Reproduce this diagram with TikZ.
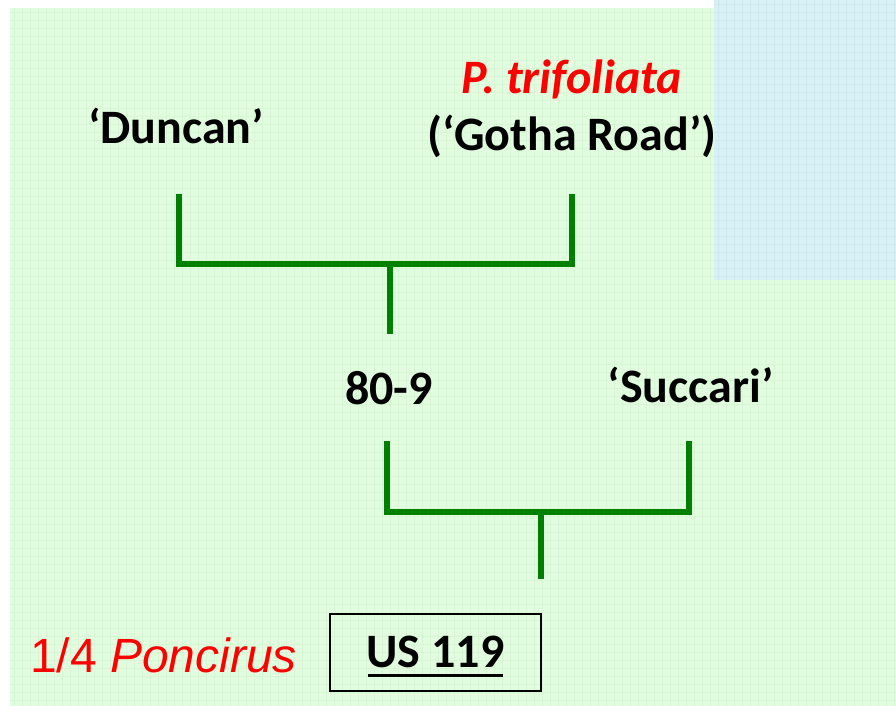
\documentclass[tikz,border=0pt]{standalone}
\usepackage{fontspec}
\setmainfont{Carlito}
\newfontfamily\arialfont{Liberation Sans}
\definecolor{paper}{HTML}{E2FCE0}
\definecolor{paperline}{HTML}{D6F6D4}
\definecolor{skyblock}{HTML}{D8F1F4}
\definecolor{skyline}{HTML}{CDE8F0}
\definecolor{treegreen}{HTML}{008000}
\definecolor{labelred}{HTML}{FF0000}
\tikzset{
  x=1pt, y=-1pt,
  cultivar/.style={font=\fontsize{48}{52}\selectfont\bfseries, text=black, anchor=base, inner sep=0pt},
  species/.style={font=\fontsize{48}{52}\selectfont\bfseries\itshape, text=labelred, anchor=base, inner sep=0pt},
  link/.style={draw=treegreen, line width=6pt},
  stem/.style={draw=treegreen, line width=6pt}
}
\begin{document}
\begin{tikzpicture}
\useasboundingbox (0,0) rectangle (896,706);
% page background with graph-paper texture
\fill[white] (0,0) rectangle (896,706);
\fill[paper] (10,8) rectangle (896,706);
\foreach \gx in {14,22,...,894} \draw[paperline, line width=0.5pt] (\gx,8) -- (\gx,706);
\foreach \gy in {12,20,...,704} \draw[paperline, line width=0.5pt] (10,\gy) -- (896,\gy);
\fill[skyblock] (714,0) rectangle (896,280);
\foreach \gx in {718,726,...,894} \draw[skyline, line width=0.5pt] (\gx,0) -- (\gx,280);
\foreach \gy in {4,12,...,276} \draw[skyline, line width=0.5pt] (714,\gy) -- (896,\gy);

% parent and offspring labels
\node[cultivar] (duncan) at (176,143) {‘Duncan’};
\node[species] (ptrif) at (572,94) {P. trifoliata};
\node[cultivar] (gotha) at (572,150) {(‘Gotha Road’)};
\node[cultivar] (hybrid) at (389,404) {80-9};
\node[cultivar] (succari) at (691,402) {‘Succari’};

% first cross: Duncan x P. trifoliata
\coordinate (a1) at (179,194);
\coordinate (a2) at (179,264);
\coordinate (b1) at (572,194);
\coordinate (b2) at (572,264);
\coordinate (c1) at (390,264);
\coordinate (c2) at (390,334);
\draw[link] (a1) -- (a2) -- (b2) -- (b1);
\draw[stem] (c1) -- (c2);

% second cross: 80-9 x Succari
\coordinate (d1) at (387,441);
\coordinate (d2) at (387,512);
\coordinate (e1) at (689,441);
\coordinate (e2) at (689,512);
\coordinate (f1) at (541,512);
\coordinate (f2) at (541,579);
\draw[link] (d1) -- (d2) -- (e2) -- (e1);
\draw[stem] (f1) -- (f2);

% resulting rootstock
\node[draw=black, line width=2pt, minimum width=211pt, minimum height=77pt, inner sep=0pt] (us119) at (435.5,652) {};
\node[cultivar] (usname) at (435.5,667) {US 119};
\draw[black, line width=3.5pt] (368,675.5) -- (503,675.5);
\node[anchor=base west, inner sep=0pt, text=labelred, font=\arialfont\fontsize{48}{52}\selectfont] (frac) at (30,672) {1/4 \textit{Poncirus}};
\end{tikzpicture}
\end{document}
